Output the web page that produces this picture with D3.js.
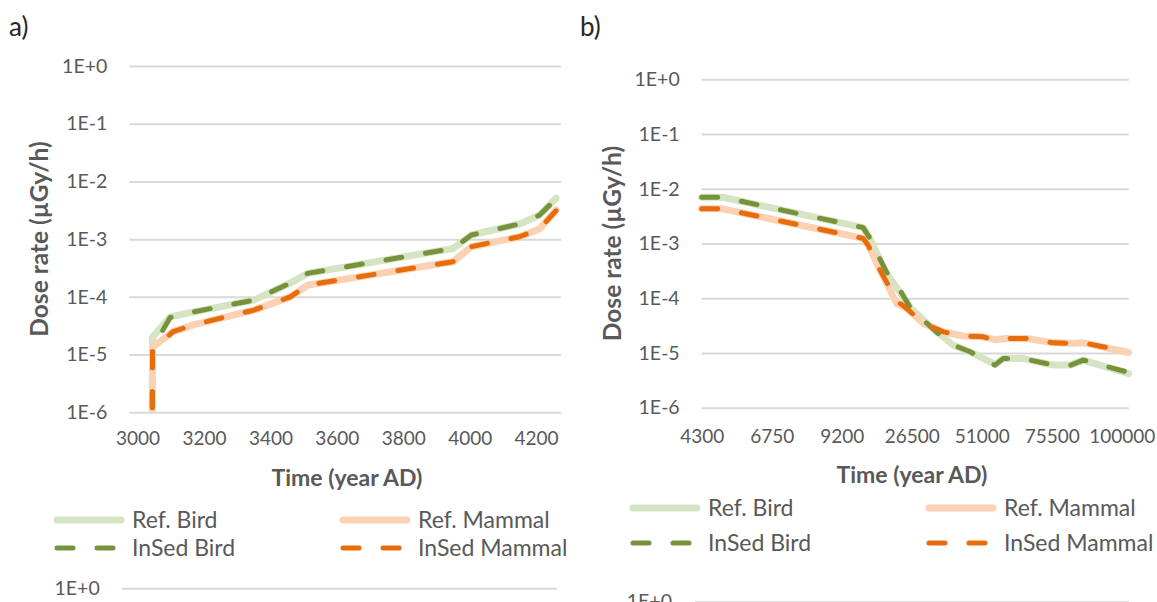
<!DOCTYPE html>
<html>
<head>
<meta charset="utf-8">
<script src="https://cdn.jsdelivr.net/npm/d3@7"></script>
<style>
body { margin: 0; background: #fff; }
svg { display: block; font-family: Lato, "Open Sans", sans-serif; }
</style>
</head>
<body>
<svg id="chart" width="1157" height="602"></svg>
<script>
// ---- panel a) 3000 - 4275 AD
var aTicks = [3000, 3200, 3400, 3600, 3800, 4000, 4200];
var aBirdYears = [3043, 3045, 3098, 3170, 3350, 3460, 3512, 3950, 4005, 4150, 4210, 4260];
var aRefBird = [1e-8, 2.0e-5, 4.5e-5, 5.5e-5, 8.8e-5, 1.74e-4, 2.55e-4, 6.9e-4, 1.18e-3, 1.83e-3, 2.6e-3, 5.1e-3];
var aInSedBird = [1e-8, 1.3e-5, 4.4e-5, 5.5e-5, 8.8e-5, 1.74e-4, 2.55e-4, 6.9e-4, 1.18e-3, 1.83e-3, 2.6e-3, 5.0e-3];
var aMammalYears = [3043, 3045, 3107, 3170, 3350, 3460, 3512, 3950, 4005, 4150, 4210, 4260];
var aRefMammal = [1e-8, 1.35e-5, 2.5e-5, 3.3e-5, 5.9e-5, 1.0e-4, 1.6e-4, 4.07e-4, 7.4e-4, 1.1e-3, 1.5e-3, 3.2e-3];
var aInSedMammal = [1e-8, 1.2e-5, 2.5e-5, 3.3e-5, 5.9e-5, 1.0e-4, 1.6e-4, 4.07e-4, 7.4e-4, 1.1e-3, 1.5e-3, 3.1e-3];

// ---- panel b) 4300 - 100000 AD (category axis, uneven steps)
var bTicks = [4300, 6750, 9200, 26500, 51000, 75500, 100000];
var bBirdYears = [4300, 5035, 14500, 16200, 18650, 20300, 23600, 26000, 30550, 35250, 41050, 46900, 52750, 55650, 58550, 65550, 76050, 81900, 86550, 102450];
var bRefBird = [7.0e-3, 7.0e-3, 1.95e-3, 1.24e-3, 5.0e-4, 2.8e-4, 1.3e-4, 7.0e-5, 4.0e-5, 2.43e-5, 1.39e-5, 1.05e-5, 7.4e-6, 6.2e-6, 7.9e-6, 7.9e-6, 6.0e-6, 6.0e-6, 7.4e-6, 4.2e-6];
var bInSedBird = [7.0e-3, 7.0e-3, 1.95e-3, 1.24e-3, 5.2e-4, 3.0e-4, 1.4e-4, 7.0e-5, 4.0e-5, 2.4e-5, 1.4e-5, 1.05e-5, 7.4e-6, 6.0e-6, 7.9e-6, 7.9e-6, 6.0e-6, 5.9e-6, 7.4e-6, 4.4e-6];
var bMammalYears = [4300, 5035, 14500, 15750, 18650, 22800, 25250, 30550, 37550, 44550, 51550, 55650, 59750, 66750, 76050, 83050, 86550, 102450];
var bRefMammal = [4.3e-3, 4.3e-3, 1.24e-3, 9.3e-4, 3.3e-4, 8.0e-5, 6.5e-5, 3.5e-5, 2.43e-5, 2.04e-5, 1.97e-5, 1.75e-5, 1.84e-5, 1.84e-5, 1.53e-5, 1.5e-5, 1.53e-5, 1.02e-5];
var bInSedMammal = [4.3e-3, 4.3e-3, 1.24e-3, 9.3e-4, 3.3e-4, 9.0e-5, 6.5e-5, 3.5e-5, 2.43e-5, 2.04e-5, 1.97e-5, 1.71e-5, 1.84e-5, 1.84e-5, 1.53e-5, 1.5e-5, 1.53e-5, 1.05e-5];

var yTicks = [1, 1e-1, 1e-2, 1e-3, 1e-4, 1e-5, 1e-6];
var legendNames = ["Ref. Bird", "Ref. Mammal", "InSed Bird", "InSed Mammal"];

var refBirdColor = "#d5e5c3",
    refMammalColor = "#fbd1b3",
    insedBirdColor = "#76933c",
    insedMammalColor = "#e76c0c",
    textColor = "#595959",
    gridColor = "#d9d9d9";

var svg = d3.select("#chart");

function fmtE(v) {
    var e = Math.round(Math.log10(v));
    return "1E" + (e >= 0 ? "+" + e : e);
}

function zip(xs, ys) {
    return xs.map(function (d, i) { return [d, ys[i]]; });
}

function drawPanel(p) {
    var g = svg.append("g");
    var x = p.x, y = p.y;
    var left = x.range()[0], right = x.range()[x.range().length - 1];
    var top = y.range()[1], bottom = y.range()[0];

    // gridlines
    g.append("g")
        .attr("transform", "translate(" + left + ",0)")
        .call(d3.axisLeft(y).tickValues(yTicks).tickSize(-(right - left)).tickFormat(""))
        .call(function (s) { s.select(".domain").remove(); })
        .selectAll("line")
        .attr("stroke", gridColor)
        .attr("stroke-width", 2);

    // y tick labels
    g.append("g")
        .attr("transform", "translate(" + left + ",0)")
        .call(d3.axisLeft(y).tickValues(yTicks).tickSize(0).tickPadding(p.yPad).tickFormat(fmtE))
        .call(function (s) { s.select(".domain").remove(); })
        .selectAll("text")
        .attr("fill", textColor)
        .style("font-size", "19.5px")
        .style("font-family", "Lato");

    // x tick labels
    g.append("g")
        .attr("transform", "translate(0," + bottom + ")")
        .call(d3.axisBottom(x).tickValues(p.ticks).tickSize(0).tickPadding(p.xPad).tickFormat(d3.format("d")))
        .call(function (s) { s.select(".domain").remove(); })
        .selectAll("text")
        .attr("fill", textColor)
        .style("font-size", "19px")
        .style("font-family", "Lato");

    // axis titles
    g.append("text")
        .attr("x", p.xTitle[0]).attr("y", p.xTitle[1])
        .attr("text-anchor", "middle")
        .attr("dy", "0.35em")
        .attr("fill", textColor)
        .style("font-size", "23px")
        .style("font-weight", "bold")
        .text("Time (year AD)");

    g.append("text")
        .attr("transform", "translate(" + p.yTitle[0] + "," + p.yTitle[1] + ") rotate(-90)")
        .attr("text-anchor", "middle")
        .attr("dy", "0.35em")
        .attr("fill", textColor)
        .style("font-size", "24.5px")
        .style("font-weight", "bold")
        .text("Dose rate (\u00b5Gy/h)");

    // panel letter
    g.append("text")
        .attr("x", p.letter[0]).attr("y", p.letter[1])
        .attr("fill", "#262626")
        .style("font-size", "26px")
        .text(p.name);

    // series
    var clipId = "clip-" + p.id;
    g.append("clipPath").attr("id", clipId)
        .append("rect")
        .attr("x", left - 6).attr("y", top - 10)
        .attr("width", right - left + 12).attr("height", bottom - top + 10);

    var line = d3.line()
        .x(function (d) { return x(d[0]); })
        .y(function (d) { return y(d[1]); });

    var plot = g.append("g").attr("clip-path", "url(#" + clipId + ")");
    p.series.forEach(function (s) {
        plot.append("path")
            .datum(s.data)
            .attr("fill", "none")
            .attr("stroke", s.color)
            .attr("stroke-width", s.width)
            .attr("stroke-linejoin", "round")
            .attr("stroke-linecap", "round")
            .attr("stroke-dasharray", s.dash)
            .attr("d", line);
    });

    // legend, two columns
    var lg = g.append("g");
    p.series.forEach(function (s, i) {
        var cx = p.legendX[i % 2], cy = p.legendY[Math.floor(i / 2)];
        lg.append("line")
            .attr("x1", cx + 3).attr("x2", cx + 67)
            .attr("y1", cy).attr("y2", cy)
            .attr("stroke", s.color)
            .attr("stroke-width", s.width)
            .attr("stroke-linecap", "round")
            .attr("stroke-dasharray", s.dash);
        lg.append("text")
            .attr("x", cx + 78).attr("y", cy)
            .attr("dy", "0.35em")
            .attr("fill", textColor)
            .style("font-size", "23px")
            .text(s.name);
    });
}

function makeSeries(birdYears, refBird, insedBird, mammalYears, refMammal, insedMammal) {
    return [
        { name: legendNames[0], data: zip(birdYears, refBird), color: refBirdColor, width: 7, dash: null },
        { name: legendNames[1], data: zip(mammalYears, refMammal), color: refMammalColor, width: 7, dash: null },
        { name: legendNames[2], data: zip(birdYears, insedBird), color: insedBirdColor, width: 5, dash: "16 24" },
        { name: legendNames[3], data: zip(mammalYears, insedMammal), color: insedMammalColor, width: 5, dash: "16 24" }
    ];
}

drawPanel({
    id: "a", name: "a)",
    x: d3.scaleLinear().domain([2975, 4275]).range([129.3, 561]),
    y: d3.scaleLog().domain([1e-6, 1]).range([412.3, 66]),
    ticks: aTicks, xPad: 19, yPad: 22,
    xTitle: [347, 478], yTitle: [39, 239], letter: [9, 36],
    legendX: [54, 340], legendY: [520, 548],
    series: makeSeries(aBirdYears, aRefBird, aInSedBird, aMammalYears, aRefMammal, aInSedMammal)
});

drawPanel({
    id: "b", name: "b)",
    x: d3.scaleLinear().domain([4300, 9200, 26500, 102450]).range([701.7, 841.7, 911.7, 1128.7]),
    y: d3.scaleLog().domain([1e-6, 1]).range([407.7, 79.3]),
    ticks: bTicks, xPad: 22, yPad: 22,
    xTitle: [912, 475], yTitle: [612, 243.5], letter: [580, 36],
    legendX: [630, 926], legendY: [508, 543],
    series: makeSeries(bBirdYears, bRefBird, bInSedBird, bMammalYears, bRefMammal, bInSedMammal)
});

// tops of the next charts below, cut off by the picture edge
[{ left: 121.7, right: 557, top: 588.3, pad: 22 }, { left: 695, right: 1129, top: 601.7, pad: 23 }].forEach(function (c) {
    var y = d3.scaleLog().domain([1e-6, 1]).range([c.top + 346, c.top]);
    var g = svg.append("g").attr("transform", "translate(" + c.left + ",0)");
    g.call(d3.axisLeft(y).tickValues([1]).tickSize(-(c.right - c.left)).tickPadding(c.pad).tickFormat(fmtE))
        .call(function (s) { s.select(".domain").remove(); });
    g.selectAll("line").attr("stroke", gridColor).attr("stroke-width", 2);
    g.selectAll("text").attr("fill", textColor).style("font-size", "19.5px").style("font-family", "Lato");
});
</script>
</body>
</html>
